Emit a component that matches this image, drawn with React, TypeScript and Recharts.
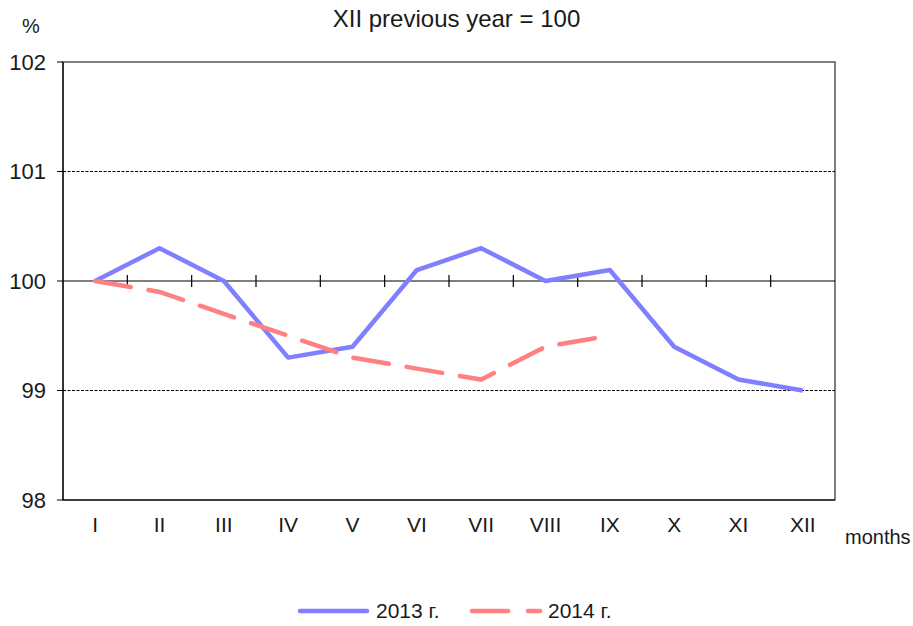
import { LineChart, Line, XAxis, YAxis, ReferenceLine, ReferenceArea } from 'recharts';

const months = ['I', 'II', 'III', 'IV', 'V', 'VI', 'VII', 'VIII', 'IX', 'X', 'XI', 'XII'];
const values2013 = [100, 100.3, 100, 99.3, 99.4, 100.1, 100.3, 100, 100.1, 99.4, 99.1, 99.0];
const values2014 = [100, 99.9, 99.7, 99.5, 99.3, 99.2, 99.1, 99.4, 99.5];
const yTicks = [98, 99, 100, 101, 102];

const BLUE = '#8080ff';
const RED = '#ff8080';
const FONT = '"Liberation Sans", Arial, sans-serif';

const data = months.map((m, i) => ({
  pos: i + 1,
  month: m,
  y2013: values2013[i],
  y2014: i < values2014.length ? values2014[i] : null,
}));

// small tick marks on the 100 line, between months
const boundaries = months.slice(1).map((_, i) => i + 1.5);

export default function App() {
  return (
    <div style={{ position: 'absolute', left: 0, top: 0, width: 913, height: 626, fontFamily: FONT, color: '#1a1a1a' }}>
      <LineChart width={913} height={626} data={data} margin={{ top: 62, right: 78, left: 8, bottom: 86 }}>
        <ReferenceArea x1={0.5} x2={12.5} y1={98} y2={102} fill="none" stroke="#555" strokeWidth={1.5} ifOverflow="visible" />
        <ReferenceLine y={101} stroke="#000" strokeDasharray="3 1.5" />
        <ReferenceLine y={99} stroke="#000" strokeDasharray="3 1.5" />
        <ReferenceLine y={100} stroke="#000" strokeWidth={1.2} />
        {boundaries.map((b) => (
          <ReferenceLine key={b} segment={[{ x: b, y: 99.945 }, { x: b, y: 100.055 }]} stroke="#000" strokeWidth={1.2} />
        ))}
        <XAxis
          dataKey="pos"
          type="number"
          domain={[0.5, 12.5]}
          ticks={data.map((d) => d.pos)}
          tickFormatter={(v) => months[v - 1]}
          axisLine={{ stroke: '#000', strokeWidth: 1.2 }}
          tickLine={false}
          tickSize={0}
          tickMargin={17}
          height={40}
          tick={{ fill: '#1a1a1a', fontSize: 21, fontFamily: FONT }}
          allowDataOverflow
        />
        <YAxis
          domain={[98, 102]}
          ticks={yTicks}
          width={55}
          axisLine={{ stroke: '#000', strokeWidth: 1.2 }}
          tickLine={{ stroke: '#000' }}
          tickSize={6}
          tickMargin={11}
          tick={{ fill: '#1a1a1a', fontSize: 22, fontFamily: FONT }}
        />
        <Line
          dataKey="y2013"
          stroke={BLUE}
          strokeWidth={4.5}
          dot={false}
          isAnimationActive={false}
          strokeLinejoin="round"
        />
        <Line
          dataKey="y2014"
          stroke={RED}
          strokeWidth={4.5}
          strokeDasharray="36 18"
          strokeLinecap="round"
          dot={false}
          isAnimationActive={false}
        />
      </LineChart>

      <div style={{ position: 'absolute', left: 0, width: 913, top: 5, textAlign: 'center', fontSize: 24 }}>
        XII previous year = 100
      </div>
      <div style={{ position: 'absolute', left: 22, top: 15, fontSize: 20 }}>%</div>
      <div style={{ position: 'absolute', left: 845, top: 526, fontSize: 20 }}>months</div>

      <svg style={{ position: 'absolute', left: 0, top: 596 }} width={913} height={30}>
        <line x1={300} x2={367} y1={15} y2={15} stroke={BLUE} strokeWidth={4.5} strokeLinecap="round" />
        <text x={376} y={22} fontSize={21} fontFamily={FONT} fill="#1a1a1a">2013 г.</text>
        <line x1={472} x2={540} y1={15} y2={15} stroke={RED} strokeWidth={4.5} strokeDasharray="36 20" strokeLinecap="round" />
        <text x={548} y={22} fontSize={21} fontFamily={FONT} fill="#1a1a1a">2014 г.</text>
      </svg>
    </div>
  );
}
